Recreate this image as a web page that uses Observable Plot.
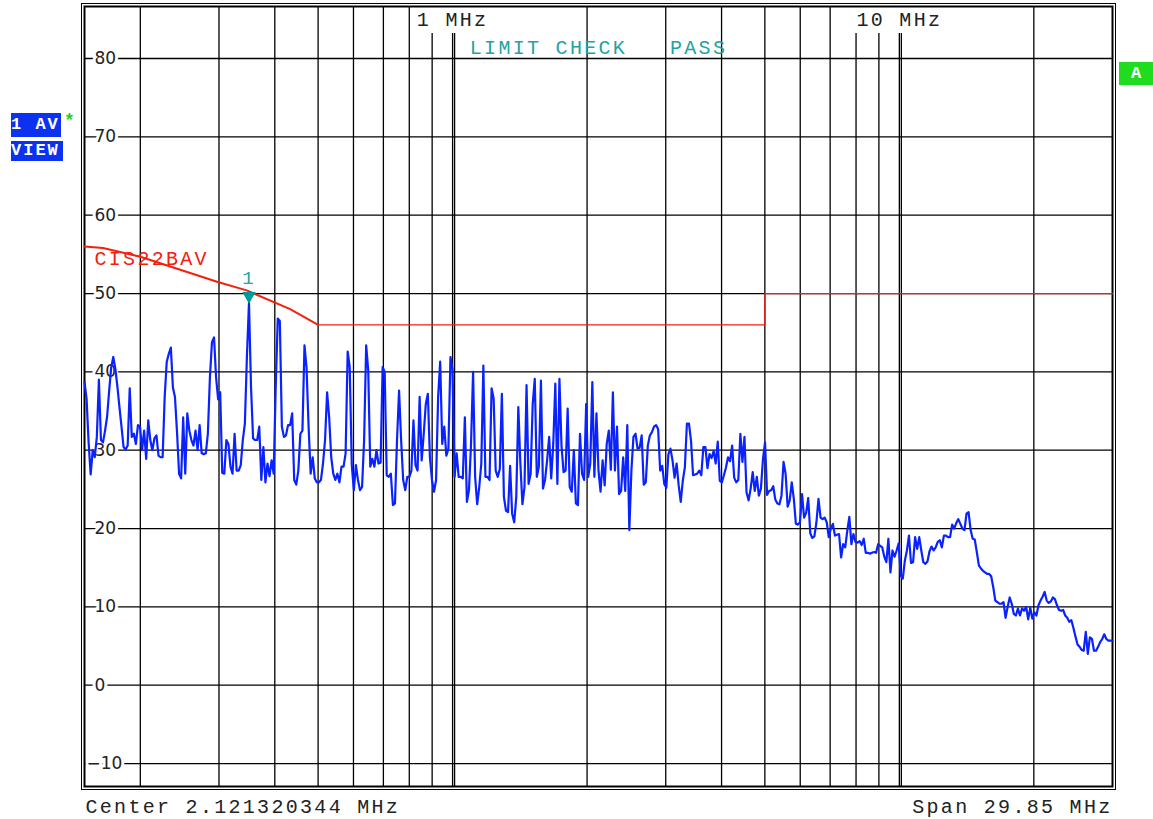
<!DOCTYPE html>
<html>
<head>
<meta charset="utf-8">
<script src="https://cdn.jsdelivr.net/npm/d3@7"></script>
<script src="https://cdn.jsdelivr.net/npm/@observablehq/plot@0.6"></script>
<style>
  html, body { margin: 0; padding: 0; background: #fff; }
  #wrap { position: relative; width: 1153px; height: 819px; overflow: hidden; }
  .tag { position: absolute; color: #fff; font-family: "Liberation Mono", monospace; font-weight: bold; }
</style>
</head>
<body>
<div id="wrap">
  <div class="tag" style="left:11px;top:113px;width:50px;height:24px;line-height:24px;background:#0a32f0;font-size:17px;letter-spacing:2px;">1 AV</div>
  <div class="tag" style="left:11px;top:141px;width:52px;height:20px;line-height:20px;background:#0a32f0;font-size:17px;letter-spacing:2px;">VIEW</div>
  <div class="tag" style="left:64px;top:111px;color:#1ed21e;font-size:18px;">*</div>
  <div class="tag" style="left:1119px;top:62px;width:34px;height:23px;line-height:23px;background:#1fdc1f;font-size:17px;text-align:center;">A</div>
</div>
<script>
// ---- sweep settings (log sweep 0.15 – 30 MHz, 501 points) ----
const startMHz = 0.15;
const stopMHz = 30;

// ---- trace 1 (AV detector), dBµV, one value per sweep point ----
const traceLevels = [
  38.7, 36.6, 31.0, 26.9, 30.0, 29.1, 31.7, 39.0, 31.3, 31.0,
  32.5, 34.3, 37.6, 40.6, 41.9, 40.4, 38.1, 35.5, 33.0, 30.4,
  30.1, 30.6, 37.9, 31.7, 32.1, 30.8, 33.2, 33.0, 30.0, 32.5,
  28.9, 33.8, 31.3, 30.0, 31.5, 31.9, 29.3, 29.1, 29.1, 36.8,
  41.3, 42.3, 43.1, 38.0, 36.8, 32.3, 27.0, 26.4, 34.2, 27.0,
  34.7, 32.5, 31.3, 30.6, 32.5, 30.0, 33.2, 29.6, 29.5, 29.6,
  32.1, 39.3, 43.8, 44.4, 39.3, 36.5, 37.4, 27.1, 27.0, 31.3,
  30.8, 27.9, 27.0, 32.1, 27.4, 27.4, 28.1, 31.3, 33.4, 42.0,
  48.8, 38.0, 31.5, 31.3, 31.3, 33.0, 26.2, 30.4, 25.9, 28.3,
  26.7, 28.7, 27.0, 38.0, 46.8, 46.5, 33.0, 31.7, 31.9, 33.2,
  33.2, 34.7, 26.2, 25.6, 27.4, 32.1, 32.5, 43.4, 40.5, 33.0,
  27.0, 29.1, 26.4, 25.9, 25.9, 26.2, 28.3, 31.3, 37.4, 34.2,
  29.1, 27.0, 26.2, 27.0, 25.9, 27.9, 27.9, 29.6, 42.6, 40.6,
  28.1, 24.9, 28.1, 26.2, 24.9, 25.3, 31.3, 43.4, 40.2, 27.9,
  28.9, 27.9, 30.0, 28.3, 28.4, 40.6, 40.0, 26.8, 26.6, 27.0,
  23.0, 23.2, 31.3, 37.6, 31.3, 26.2, 24.9, 26.6, 26.6, 27.4,
  33.8, 28.1, 27.4, 36.8, 28.7, 32.1, 35.9, 37.2, 29.1, 26.2,
  24.7, 26.2, 36.8, 41.3, 30.8, 33.0, 29.3, 30.2, 41.9, 40.3,
  26.6, 29.6, 26.6, 26.6, 26.4, 34.2, 23.4, 24.9, 30.8, 40.0,
  26.6, 23.1, 25.3, 28.3, 40.8, 26.6, 26.6, 26.2, 37.9, 36.6,
  27.4, 26.6, 27.6, 37.2, 24.0, 22.3, 22.1, 28.0, 21.9, 20.8,
  24.0, 35.5, 28.3, 23.1, 25.3, 38.3, 25.7, 27.0, 35.9, 39.1,
  26.6, 27.9, 38.9, 25.1, 26.2, 28.7, 31.7, 26.4, 30.8, 38.5,
  25.7, 39.1, 30.6, 27.2, 27.4, 35.3, 25.3, 24.7, 30.0, 23.2,
  23.0, 32.1, 27.0, 26.2, 35.9, 26.6, 28.3, 38.7, 26.6, 34.7,
  27.4, 24.7, 28.7, 25.5, 30.8, 32.5, 27.5, 37.4, 27.4, 33.0,
  24.4, 24.8, 29.1, 24.8, 33.2, 19.8, 27.4, 31.7, 32.1, 30.2,
  30.3, 31.9, 25.6, 25.9, 30.6, 31.9, 32.3, 33.0, 33.2, 32.7,
  27.4, 28.0, 25.7, 25.2, 29.5, 30.2, 28.7, 26.5, 28.3, 25.5,
  23.4, 26.1, 27.8, 33.4, 33.4, 31.2, 26.8, 26.9, 27.0, 27.4,
  26.8, 30.4, 30.4, 27.7, 29.5, 29.0, 29.9, 28.3, 31.1, 26.1,
  25.9, 26.8, 27.8, 29.1, 28.6, 30.6, 26.5, 25.9, 26.2, 32.1,
  28.5, 31.7, 24.6, 23.6, 25.1, 27.2, 24.8, 26.6, 24.2, 25.1,
  28.9, 31.0, 24.3, 24.8, 24.9, 25.4, 23.7, 23.2, 23.1, 24.2,
  28.5, 27.0, 22.8, 23.6, 25.9, 23.8, 20.6, 20.5, 20.8, 24.4,
  21.4, 22.0, 23.9, 19.4, 18.8, 19.0, 20.8, 23.8, 21.4, 21.2,
  21.4, 20.8, 18.9, 20.0, 20.6, 19.1, 19.2, 19.3, 16.3, 18.0,
  17.6, 19.7, 21.5, 18.0, 19.3, 18.3, 18.2, 18.4, 17.9, 18.7,
  16.9, 16.9, 16.8, 16.9, 17.0, 16.9, 18.0, 17.8, 17.6, 16.4,
  15.7, 18.7, 14.4, 17.2, 16.4, 17.2, 18.1, 14.0, 13.6, 15.9,
  17.2, 19.1, 15.6, 15.7, 18.9, 17.4, 18.9, 17.2, 15.7, 15.5,
  15.8, 17.1, 17.7, 17.2, 17.6, 18.3, 18.5, 17.6, 19.1, 19.1,
  18.9, 18.9, 20.5, 20.0, 20.7, 21.2, 20.6, 20.0, 19.8, 21.9,
  22.1, 19.8, 18.7, 18.6, 17.0, 15.3, 14.9, 14.6, 14.4, 14.2,
  14.2, 13.9, 12.5, 10.8, 10.6, 10.4, 10.4, 10.6, 8.6, 10.0,
  11.2, 10.4, 9.1, 8.9, 9.8, 8.9, 9.8, 9.5, 10.0, 8.4,
  9.9, 8.5, 9.3, 8.9, 10.2, 10.8, 11.3, 11.9, 10.8, 10.5,
  10.7, 11.2, 11.0, 10.2, 9.6, 9.5, 9.6, 8.9, 8.6, 8.1,
  8.3, 7.3, 6.2, 5.2, 4.9, 4.5, 4.4, 6.8, 4.0, 6.1,
  5.9, 4.4, 4.4, 4.9, 5.5, 5.9, 6.5, 5.9, 5.7, 5.7,
  5.7
];

// ---- limit line CIS22BAV ----
const limitMHz = [0.15, 0.165, 0.2, 0.297, 0.346, 0.433, 0.5, 5, 5, 30];
const limitDb  = [56.0, 55.8, 54.7, 51.5, 50.4, 48.0, 46.0, 46.0, 50.0, 50.0];
const limitName = "CIS22BAV";

// ---- marker 1 ----
const markerIndex = 80;
const markerLabel = "1";

// ---- axes ----
const yTicks = [-10, 0, 10, 20, 30, 40, 50, 60, 70, 80];
const gridMHz = [0.2, 0.3, 0.4, 0.5, 0.6, 0.7, 0.8, 0.9, 1, 2, 3, 4, 5, 6, 7, 8, 9, 10, 20];
const decadeMHz = [1, 10];
const decadeText = ["1 MHz", "10 MHz"];

// ---- texts ----
const limitCheckText = "LIMIT CHECK\u00a0\u00a0\u00a0PASS";
const centerText = "Center 2.121320344 MHz";
const spanText = "Span 29.85 MHz";

// build tables
const n = traceLevels.length;
const trace = traceLevels.map((dB, i) => ({
  freq: startMHz * Math.pow(stopMHz / startMHz, i / (n - 1)),
  dB
}));
const limit = limitMHz.map((f, i) => ({ freq: f, dB: limitDb[i] }));
const limitSlope = limit.filter(d => d.freq <= 0.5);
const limitFlat = limit.filter(d => d.freq >= 0.5);
const marker = [trace[markerIndex]];

// layout
const W = 1153, H = 819, ML = 84, MR = 41, MT = 6, MB = 33;
const plotW = W - ML - MR;
const charPitch = 14.3; // px per monospace character (20px font + letter spacing)
// half width (in log-frequency factor) of the white box behind each decade label
const boxFactor = (label) => Math.pow(stopMHz / startMHz, (label.length * charPitch / 2 + 2) / plotW);
const decadeBoxes = decadeMHz.map((f, i) => ({ x1: f / boxFactor(decadeText[i]), x2: f * boxFactor(decadeText[i]) }));

const MONO = "Liberation Mono";
const RED = "#f2200f";
const TEAL = "#1fa3a3";

const chart = Plot.plot({
  width: W,
  height: H,
  marginLeft: ML,
  marginRight: MR,
  marginTop: MT,
  marginBottom: MB,
  x: { type: "log", domain: [startMHz, stopMHz], axis: null },
  y: { domain: [-12.93, 86.64], axis: null },
  style: { background: "white", fontFamily: "DejaVu Sans" },
  marks: [
    Plot.ruleY(yTicks, { stroke: "#000", strokeWidth: 1.3 }),
    Plot.ruleX(gridMHz, { stroke: "#000", strokeWidth: 1.3 }),
    Plot.ruleX(decadeMHz, { stroke: "#000", strokeWidth: 1.3, dx: 2 }),
    Plot.text(yTicks.filter(d => d >= 0), {
      y: d => d, text: d => String(d), frameAnchor: "left", textAnchor: "start",
      dx: 10, fontSize: 17, fill: "#222", stroke: "white", strokeWidth: 6
    }),
    Plot.text(yTicks.filter(d => d < 0), {
      y: d => d, text: d => "\u2212" + String(-d), frameAnchor: "left", textAnchor: "start",
      dx: 2, fontSize: 17, fill: "#222", stroke: "white", strokeWidth: 6
    }),
    // white box behind the decade labels (gridlines are interrupted there)
    Plot.rect(decadeBoxes, { x1: "x1", x2: "x2", insetTop: 1, insetBottom: H - MT - MB - 27, fill: "white" }),
    Plot.text(decadeMHz, {
      x: d => d, text: (d, i) => decadeText[i], frameAnchor: "top", lineAnchor: "middle",
      dy: 13, fontFamily: MONO, fontSize: 20, fill: "#222"
    }),
    Plot.frame({ stroke: "#000", strokeWidth: 2 }),
    Plot.frame({ stroke: "#000", strokeWidth: 1, inset: -3 }),
    Plot.line(limitSlope, { x: "freq", y: "dB", stroke: RED, strokeWidth: 2 }),
    Plot.line(limitFlat, { x: "freq", y: "dB", stroke: RED, strokeWidth: 1.3 }),
    Plot.line(trace, { x: "freq", y: "dB", stroke: "#0a22ff", strokeWidth: 2.2 }),
    Plot.dot(marker, { x: "freq", y: "dB", symbol: "triangle", r: 5, rotate: 180, dy: -7, fill: "#009a9a", stroke: null }),
    Plot.text(marker, { x: "freq", y: "dB", text: () => markerLabel, dy: -25, fontFamily: MONO, fontSize: 19, fill: TEAL }),
    Plot.text([limitName], { text: d => d, frameAnchor: "top-left", textAnchor: "start", lineAnchor: "middle",
      dx: 10, dy: 252, fontFamily: MONO, fontSize: 20, fill: RED }),
    Plot.text([limitCheckText], { text: d => d, frameAnchor: "top", lineAnchor: "middle",
      dy: 41, fontFamily: MONO, fontSize: 20, fill: TEAL }),
    Plot.text([centerText], { text: d => d, frameAnchor: "bottom-left", textAnchor: "start", lineAnchor: "middle",
      dx: 1, dy: 20.5, fontFamily: MONO, fontSize: 20, fill: "#222" }),
    Plot.text([spanText], { text: d => d, frameAnchor: "bottom-right", textAnchor: "end", lineAnchor: "middle",
      dx: 0, dy: 20.5, fontFamily: MONO, fontSize: 20, fill: "#222" })
  ]
});
chart.querySelectorAll('g[font-family="' + MONO + '"]').forEach(g => g.setAttribute("letter-spacing", "2.3"));
chart.style.position = "absolute";
chart.style.left = "0px";
chart.style.top = "0px";
const wrap = document.getElementById("wrap");
wrap.insertBefore(chart, wrap.firstChild);
</script>
</body>
</html>
